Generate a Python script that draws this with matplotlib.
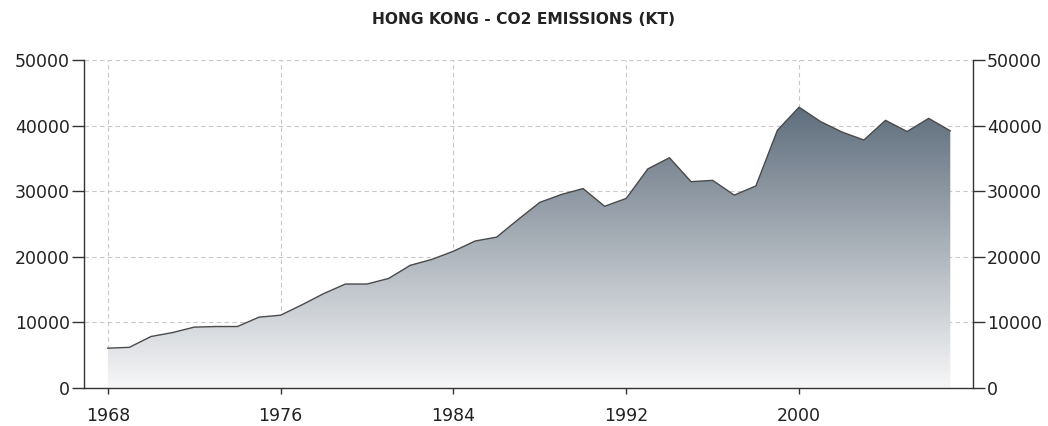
import numpy as np
import matplotlib
matplotlib.use("Agg")
import matplotlib.pyplot as plt
from matplotlib.colors import LinearSegmentedColormap

years = list(range(1968, 2008))
emissions = [6070, 6200, 7850, 8450, 9280, 9370, 9370, 10800, 11100, 12700,
             14400, 15850, 15850, 16700, 18700, 19600, 20850, 22400, 23000, 25700,
             28300, 29500, 30400, 27700, 28900, 33400, 35100, 31450, 31650, 29400,
             30800, 39300, 42800, 40600, 39000, 37800, 40800, 39100, 41100, 39200]
xticks = [1968, 1976, 1984, 1992, 2000]
yticks = [0, 10000, 20000, 30000, 40000, 50000]

plt.rcParams['font.family'] = 'DejaVu Sans'

fig = plt.figure(figsize=(10.48, 4.26), dpi=100)
ax = fig.add_axes([0.0802, 0.0892, 0.8482, 0.7700])

x = np.array(years)
y = np.array(emissions)

# gradient fill clipped to the area under the line
cmap = LinearSegmentedColormap.from_list('slate', ['#f7f7f8', '#5f6e7d'])
ymax = y.max()
grad = np.linspace(0, 1, 256).reshape(-1, 1)
img = ax.imshow(grad, cmap=cmap, aspect='auto', origin='lower',
                extent=[x[0], x[-1], 0, ymax], zorder=2)
poly = ax.fill_between(x, 0, y, facecolor='none', edgecolor='none')
clip = poly.get_paths()[0]
img.set_clip_path(clip, transform=ax.transData)
ax.plot(x, y, color='#4a4a4a', lw=1.0, zorder=3)

ax.set_xlim(1966.9, 2008.05)
ax.set_ylim(0, 50000)
ax.set_xticks(xticks)
ax.set_yticks(yticks)
ax.grid(True, color='#c8c8c8', linestyle=(0, (4, 3)), lw=0.8, zorder=1)
ax.set_axisbelow(True)

for s in ['left', 'right', 'bottom']:
    ax.spines[s].set_color('#333333')
    ax.spines[s].set_linewidth(1.0)
ax.spines['top'].set_visible(False)

ax.tick_params(axis='both', direction='out', width=1, color='#333333',
               labelsize=12.5, labelcolor='#222222')
ax.tick_params(axis='x', length=4.5, pad=9)
ax.tick_params(axis='y', left=True, right=True, labelleft=True, labelright=True,
               length=8.5, pad=1.5)

fig.text(0.5, 0.955, 'HONG KONG - CO2 EMISSIONS (KT)', ha='center', va='center',
         fontsize=11.2, fontweight='bold', color='#222222')

fig.savefig('out.png', dpi=100)
